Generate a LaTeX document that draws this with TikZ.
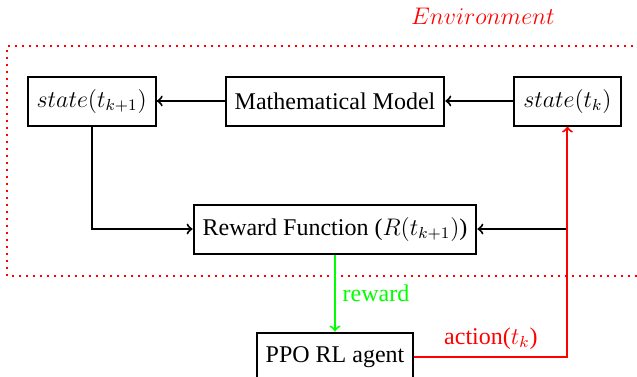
\documentclass[tikz,border=0pt]{standalone}
\usepackage{fontspec}
\setmainfont{Liberation Serif}
\usepackage{tikz}
\usetikzlibrary{positioning}
\tikzstyle{block} = [rectangle, draw=black, line width=1pt, minimum height=24.5pt, inner xsep=4.5pt, text centered, font=\fontsize{12}{14}\selectfont]
\tikzstyle{arrow} = [line width=1pt,->]
\tikzstyle{envline} = [red, line width=1pt, dash pattern=on 0.9pt off 2.6pt]

\begin{document}
\begin{tikzpicture}
        \useasboundingbox (-167.5pt,-137.5pt) rectangle (151pt,50.5pt);

        \node (model) [block] {
            Mathematical Model
        };

        \node (snext) [block, left=34pt of model] {
            $state(t_{k+1})$
        };

        \node (snow) [block, right=34pt of model] {
            $state(t_k)$
        };

        \node (reward) [block, below=38.5pt of model] {
            Reward Function ($R(t_{k+1})$)
        };

        \node (agent) [block, below=38.5pt of reward] {
            PPO RL agent
        };

        \node (envlabel) [red, font=\fontsize{12}{14}\selectfont] at (74pt,42.5pt) {
            $Environment$
        };

        \draw [envline] (170pt,27.5pt) -- (-164pt,27.5pt) -- (-164pt,-87.5pt) -- (170pt,-87.5pt);

        \coordinate (split) at (snow.south |- reward.east);

        \draw [arrow] (snow) -- (model);
        \draw [arrow] (model) -- (snext);
        \draw [arrow] (snext.south) |- (reward.west);
        \draw [arrow] (split) -- (reward.east);
        \draw [arrow, green] (reward) -- node [right, font=\fontsize{12}{14}\selectfont] {reward} (agent);
        \draw [arrow, red] (agent.east) -- node [above, font=\fontsize{12}{14}\selectfont] {action($t_k$)} (agent.east -| snow.south) -- (snow.south);
    \end{tikzpicture}
\end{document}
